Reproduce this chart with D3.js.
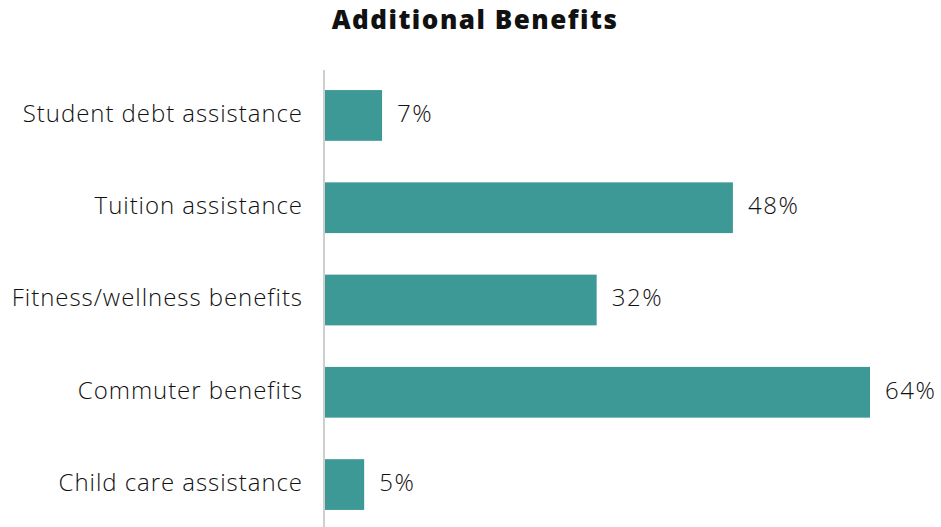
<!DOCTYPE html>
<html>
  <head>
    <meta charset="utf-8">
    <style type="text/css">
      body { margin: 0; background: #fff; }
      text { font-family: "Open Sans", Lato, sans-serif; fill: #111; }
      .title { font-weight: 800; font-size: 26px; letter-spacing: 1.5px; }
      .cat { font-size: 24px; font-weight: 300; letter-spacing: 0.95px; }
      .val { font-size: 24px; font-weight: 300; letter-spacing: 1.6px; }
      .axis-line { stroke: #cfcfcf; stroke-width: 2; }
    </style>
  </head>
  <body>
    <script src="https://d3js.org/d3.v7.min.js"></script>
    <script>
      // values; labels are rounded
      var categories = ["Student debt assistance", "Tuition assistance", "Fitness/wellness benefits", "Commuter benefits", "Child care assistance"];
      var values = [6.7, 47.9, 31.9, 64, 4.6];

      var width = 941;
      var height = 527;
      var left = 325;

      var svg = d3.select("body")
                  .append("svg")
                  .attr("width", width)
                  .attr("height", height);

      var x = d3.scaleLinear()
          .domain([0, 64])
          .range([left, 870]);

      var y = d3.scaleBand()
          .domain(categories)
          .range([67, 533])
          .paddingInner(0.45)
          .paddingOuter(0.25);

      svg.append("text")
          .attr("class", "title")
          .attr("x", 475)
          .attr("y", 29)
          .attr("text-anchor", "middle")
          .text("Additional Benefits");

      var data = categories.map(function(c, i) { return {name: c, value: values[i]}; });

      svg.selectAll("rect.bar")
          .data(data)
        .enter()
          .append("rect")
          .attr("class", "bar")
          .attr("x", x(0))
          .attr("y", function(d) { return y(d.name); })
          .attr("width", function(d) { return x(d.value) - x(0); })
          .attr("height", y.bandwidth())
          .style("fill", "#3d9996");

      svg.append("line")
          .attr("class", "axis-line")
          .attr("x1", left - 1)
          .attr("x2", left - 1)
          .attr("y1", 70)
          .attr("y2", height);

      svg.selectAll("text.cat")
          .data(data)
        .enter()
          .append("text")
          .attr("class", "cat")
          .attr("x", 303)
          .attr("y", function(d) { return y(d.name) + y.bandwidth() / 2; })
          .attr("dy", "0.27em")
          .attr("text-anchor", "end")
          .text(function(d) { return d.name; });

      svg.selectAll("text.val")
          .data(data)
        .enter()
          .append("text")
          .attr("class", "val")
          .attr("x", function(d) { return x(d.value) + 15; })
          .attr("y", function(d) { return y(d.name) + y.bandwidth() / 2; })
          .attr("dy", "0.27em")
          .text(function(d) { return Math.round(d.value) + "%"; });
    </script>
  </body>
</html>
